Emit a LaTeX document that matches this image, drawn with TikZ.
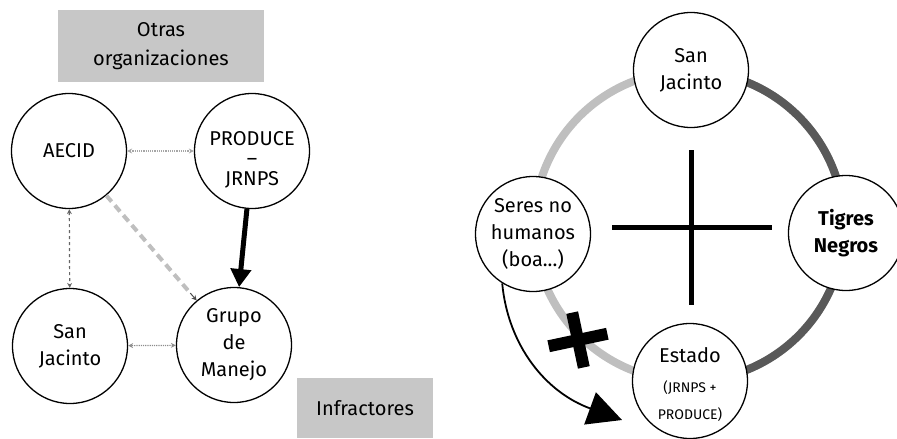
\documentclass[tikz,border=0pt]{standalone}
\usepackage{fontspec}
\setmainfont{Fira Sans}
\usetikzlibrary{arrows.meta,calc}
\begin{document}
\begin{tikzpicture}[x=1pt,y=-1pt,
  circ/.style={circle,draw=black,line width=1.3pt,fill=white,minimum size=115pt,inner sep=0pt,align=center,font=\fontsize{20}{27}\selectfont},
  ctext/.style={align=center,inner sep=0pt,font=\fontsize{20}{27}\selectfont},
  gbox/.style={fill=black!22,align=center,font=\fontsize{20}{29}\selectfont,inner sep=0pt},
  tip/.style={-{Stealth[length=5pt,width=5pt]}},
  dtip/.style={{Stealth[length=5pt,width=5pt]}-{Stealth[length=5pt,width=5pt]}}
]
\useasboundingbox (0,0) rectangle (897,439);
% left diagram
\node[gbox,minimum width=206pt,minimum height=72pt] (otras) at (161,46) {Otras\\organizaciones};
\node[gbox,minimum width=136pt,minimum height=60pt] (infr) at (365,408) {Infractores};
\node[circ] (aecid) at (69,151) {AECID};
\node[circ] (prod) at (252,151) {};
\node[ctext] (prodtxt) at (252,160) {PRODUCE\\[-7pt]–\\[-7pt]JRNPS};
\node[circ] (sj) at (70,346) {San\\Jacinto};
\node[circ] (grupo) at (234,345) {Grupo\\de\\Manejo};
\draw[dtip,black!35,densely dotted,line width=1.2pt] (aecid) -- (prod);
\draw[dtip,black!60,dashed,line width=1.2pt] (aecid) -- (sj);
\draw[dtip,black!45,densely dotted,line width=1.2pt] (grupo) -- (sj);
\draw[black!25,dash pattern=on 8pt off 5pt,line width=4pt] (aecid.-50) -- ($(aecid.-50)!0.93!(grupo.130)$) coordinate (ag);
\draw[tip,black!70,line width=1pt] (ag) -- (grupo.130);
\draw[-{Triangle[length=18pt,width=20pt]},line width=5pt] (prod.-95) -- (grupo.85);
% right diagram
\coordinate (rc) at (689,226);
\draw[black!25,line width=8pt] (rc) circle[radius=155];
\draw[black!65,line width=8pt] (689,71) arc[start angle=-90,end angle=90,radius=155];
\node[circ] (sj2) at (691,70) {San\\Jacinto};
\node[circ] (tig) at (846,233) {\bfseries Tigres\\\bfseries Negros};
\node[circ] (seres) at (533,234) {Seres no\\humanos\\(boa...)};
\node[circ] (est) at (690,381) {};
\node[ctext] (esttxt) at (690,385) {Estado\\[3pt]{\fontsize{14}{22}\selectfont (JRNPS +}\\{\fontsize{14}{22}\selectfont PRODUCE)}};
\draw[line width=5pt] (691,150) -- (691,305);
\draw[line width=5pt] (612,227) -- (772,227);
\begin{scope}[shift={(578,340)},rotate=12]
\draw[line width=12pt] (-30,0) -- (30,0);
\draw[line width=12pt] (0,-28) -- (0,28);
\end{scope}
\coordinate (atip) at (622,420);
\draw[line width=1.8pt,-{Triangle[length=34pt,width=34pt]}] (seres.238) .. controls (508,345) and (545,392) .. (atip);
\end{tikzpicture}
\end{document}
